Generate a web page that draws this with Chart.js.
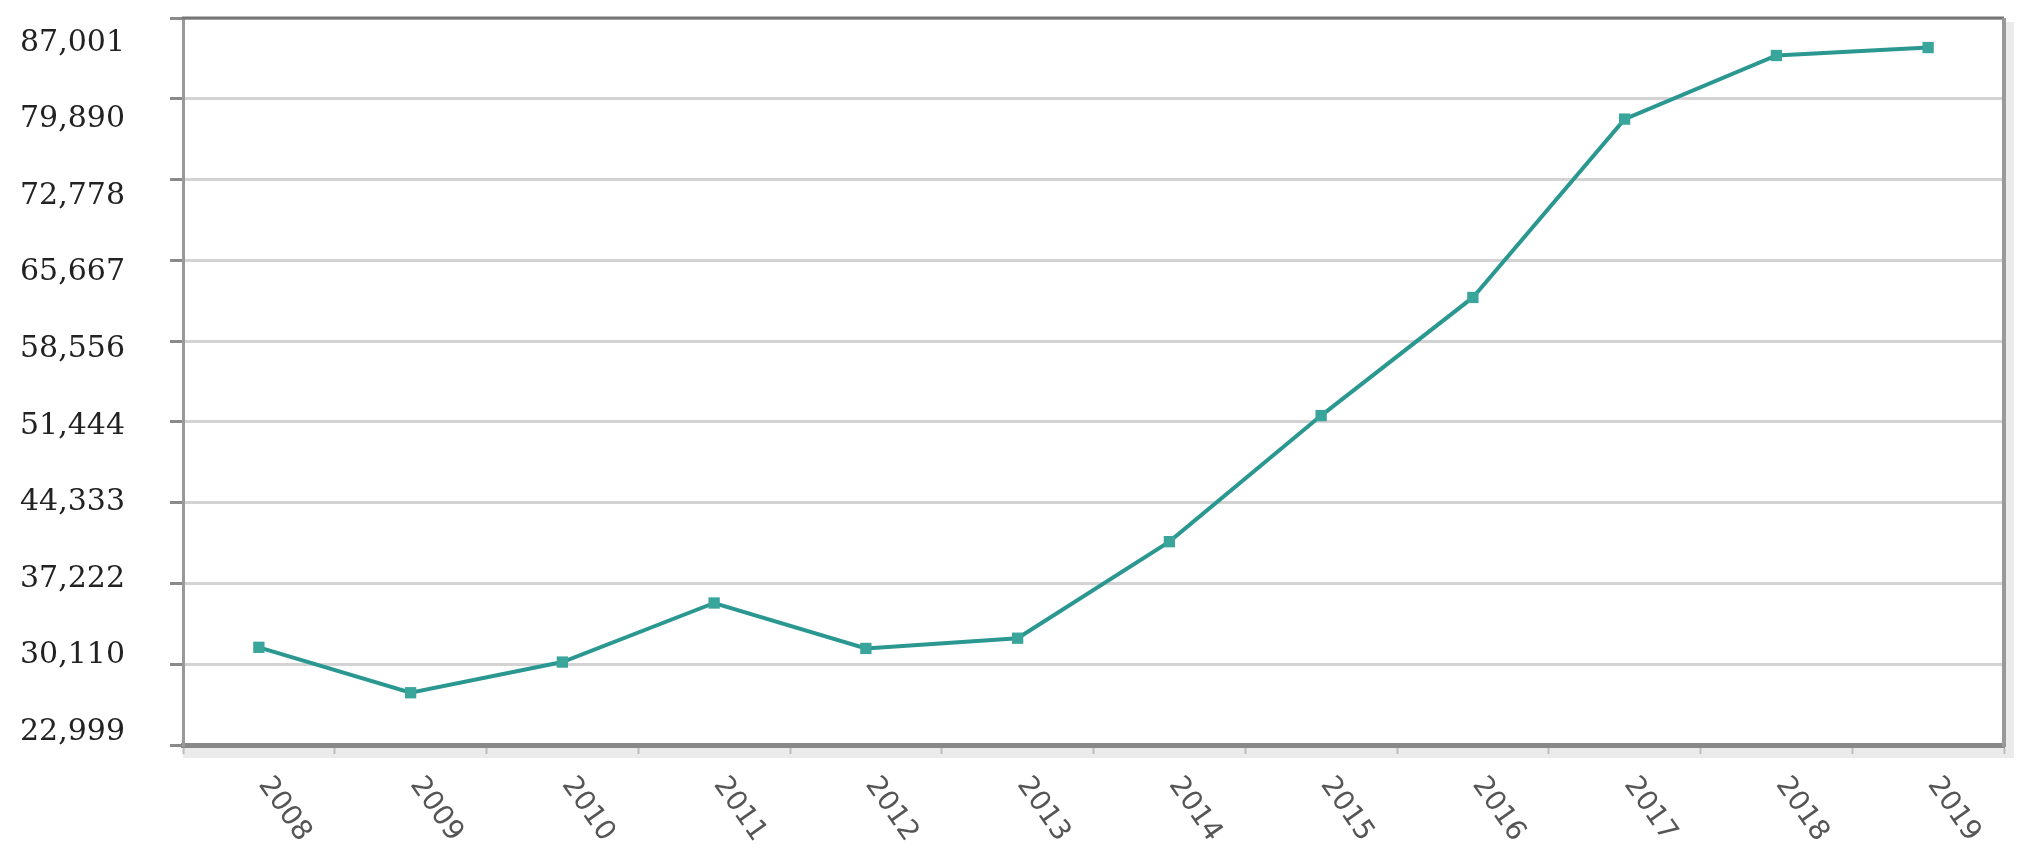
<!DOCTYPE html>
<html>
<head>
<meta charset="utf-8">
<title>Line chart 2008-2019</title>
<script src="https://cdn.jsdelivr.net/npm/chart.js@4/dist/chart.umd.min.js"></script>
<style>
  html, body { margin: 0; padding: 0; background: #fff; }
  #wrap { width: 2026px; height: 868px; position: relative; }
</style>
</head>
<body>
<div id="wrap"><canvas id="chart"></canvas></div>
<script>
const years = ["2008", "2009", "2010", "2011", "2012", "2013", "2014", "2015", "2016", "2017", "2018", "2019"];
const values = [31600, 27600, 30300, 35500, 31500, 32400, 40900, 52000, 62400, 78100, 83700, 84400];
const yTickValues = [22999, 30110, 37222, 44333, 51444, 58556, 65667, 72778, 79890, 87001];

const LINE_COLOR = "#2a9890";
const POINT_COLOR = "#3aa59b";

const fmt = (v) => v.toLocaleString("en-US");

// rotated year labels under the axis (text runs down to the right)
const xLabelPlugin = {
  id: "xLabels",
  afterDraw(chart) {
    const { ctx, chartArea } = chart;
    const x = chart.scales.x;
    ctx.save();
    ctx.font = '28px "DejaVu Sans"';
    ctx.fillStyle = "#555";
    ctx.textAlign = "left";
    ctx.textBaseline = "middle";
    years.forEach((label, i) => {
      ctx.save();
      ctx.translate(x.getPixelForValue(i) + 5, chartArea.bottom + 35);
      ctx.rotate((55 * Math.PI) / 180);
      ctx.fillText(label, 0, 0);
      ctx.restore();
    });
    ctx.restore();
  },
};

// frame: shadows, top and right border
const framePlugin = {
  id: "frame",
  beforeDraw(chart) {
    const { ctx, chartArea: a } = chart;
    ctx.save();
    ctx.fillStyle = "#ebebeb";
    ctx.fillRect(a.left, a.bottom + 2, a.right - a.left + 6, 11);
    ctx.fillRect(a.right + 2, a.top + 4, 8, a.bottom - a.top + 9);
    ctx.restore();
  },
  afterDatasetsDraw(chart) {
    const { ctx, chartArea: a } = chart;
    ctx.save();
    ctx.strokeStyle = "#777";
    ctx.lineWidth = 3;
    ctx.beginPath();
    ctx.moveTo(a.left - 1, a.top);
    ctx.lineTo(a.right, a.top);
    ctx.stroke();
    ctx.strokeStyle = "#999";
    ctx.lineWidth = 4;
    ctx.beginPath();
    ctx.moveTo(a.right, a.top);
    ctx.lineTo(a.right, a.bottom + 2);
    ctx.stroke();
    ctx.restore();
  },
};

const setTicks = (scale) => {
  scale.ticks = yTickValues.map((v) => ({ value: v }));
};

new Chart(document.getElementById("chart"), {
  type: "line",
  data: {
    labels: years,
    datasets: [
      {
        data: values,
        borderColor: LINE_COLOR,
        backgroundColor: POINT_COLOR,
        borderWidth: 4,
        tension: 0,
        fill: false,
        pointStyle: "rect",
        pointRadius: 8,
        pointBorderWidth: 0,
        yAxisID: "y",
      },
    ],
  },
  options: {
    responsive: true,
    maintainAspectRatio: false,
    animation: false,
    layout: { padding: { left: 0, top: 18, right: 22, bottom: 0 } },
    plugins: {
      legend: { display: false },
      tooltip: { enabled: false },
    },
    scales: {
      x: {
        offset: true,
        grid: {
          offset: true,
          drawOnChartArea: false,
          drawTicks: true,
          tickLength: 9,
          tickColor: "#bdbdbd",
          tickWidth: 2,
        },
        border: { display: true, color: "#888", width: 5 },
        ticks: { display: false },
        afterFit(scale) {
          scale.height = 123;
        },
      },
      y: {
        position: "left",
        weight: 0,
        min: 22999,
        max: 87001,
        afterBuildTicks: setTicks,
        grid: {
          color: "#d3d3d3",
          lineWidth: 3,
          drawTicks: true,
          tickLength: 13,
          tickColor: "#8a8a8a",
          tickWidth: 3,
        },
        border: { display: true, color: "#999", width: 3 },
        ticks: { display: false },
        afterFit(scale) {
          scale.width = 13;
        },
      },
      // label axis: spreads the tick labels a little differently from the grid
      yLabels: {
        position: "left",
        weight: 1,
        min: 21791,
        max: 89323,
        afterBuildTicks: setTicks,
        grid: { display: false, drawTicks: false },
        border: { display: false },
        ticks: {
          color: "#222",
          padding: 45,
          font: { family: '"DejaVu Serif", "Liberation Serif", serif', size: 30, lineHeight: 1 },
          callback: (v) => fmt(v),
        },
        afterFit(scale) {
          scale.width = 170;
          // tick padding would otherwise push the chart area down
          scale.paddingTop = 0;
          scale.paddingBottom = 0;
        },
      },
    },
  },
  plugins: [framePlugin, xLabelPlugin],
});
</script>
</body>
</html>
